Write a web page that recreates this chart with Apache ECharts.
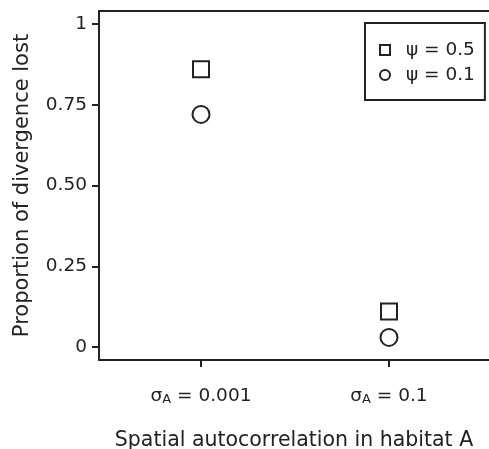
<!DOCTYPE html>
<html><head><meta charset="utf-8">
<script src="https://cdn.jsdelivr.net/npm/echarts@6/dist/echarts.min.js"></script>
<style>html,body{margin:0;padding:0;background:#fff;overflow:hidden}#c{width:489px;height:449px}</style>
</head><body><div id="c"></div>
<script>
// Data
const categories = ['0.001', '0.1'];          // sigma_A values
const categoryPos = [1, 2];
const seriesNames = ['ψ = 0.5', 'ψ = 0.1'];
const squareValues = [0.86, 0.11];            // psi = 0.5
const circleValues = [0.72, 0.03];            // psi = 0.1
const yTickValues = [0, 0.25, 0.5, 0.75, 1];
const yTickLabels = ['0', '0.25', '0.50', '0.75', '1'];
const xTitle = 'Spatial autocorrelation in habitat A';
const yTitle = 'Proportion of divergence lost';

const FONT = 'DejaVu Sans';
const INK = '#222';
const chart = echarts.init(document.getElementById('c'), null, {renderer: 'canvas'});

const markerStyle = {color: '#fff', borderColor: INK, borderWidth: 2, opacity: 1};
const axisLineStyle = {color: INK, width: 2};

chart.setOption({
  animation: false,
  backgroundColor: '#fff',
  textStyle: {fontFamily: FONT, color: INK},
  grid: {
    left: 99, top: 11, right: 0, bottom: 89,
    outerBoundsMode: 'none',
    show: false
  },
  legend: {
    orient: 'vertical',
    left: 365, top: 23,
    padding: [17, 10, 15, 14],
    itemGap: 5,
    itemWidth: 10, itemHeight: 10,
    borderColor: INK, borderWidth: 2,
    textStyle: {fontFamily: FONT, fontSize: 18.5, color: INK, lineHeight: 20, padding: [0, 0, 0, 11]},
    data: [
      {name: seriesNames[0], icon: 'rect'},
      {name: seriesNames[1], icon: 'circle'}
    ]
  },
  xAxis: [{
    type: 'value',
    position: 'bottom',
    min: 0.4574, max: 2.532,
    splitLine: {show: false},
    axisLine: {show: true, onZero: false, lineStyle: axisLineStyle},
    axisTick: {show: true, length: 7, lineStyle: axisLineStyle, customValues: categoryPos},
    axisLabel: {
      customValues: categoryPos,
      margin: 22,
      formatter: function (v) {
        const i = categoryPos.indexOf(v);
        return '{m|σ}{s|A}{m| = ' + categories[i] + '}';
      },
      rich: {
        m: {fontFamily: FONT, fontSize: 18.5, color: INK, lineHeight: 24, verticalAlign: 'bottom'},
        s: {fontFamily: FONT, fontSize: 13, color: INK, lineHeight: 13, verticalAlign: 'bottom'}
      }
    },
    name: xTitle,
    nameLocation: 'middle',
    nameGap: 70,
    nameTextStyle: {fontFamily: FONT, fontSize: 20.5, color: INK}
  }, {
    type: 'value',
    position: 'top',
    min: 0.4574, max: 2.532,
    splitLine: {show: false},
    axisLine: {show: true, onZero: false, lineStyle: axisLineStyle},
    axisTick: {show: false},
    axisLabel: {show: false}
  }],
  yAxis: {
    type: 'value',
    min: -0.04, max: 1.04,
    splitLine: {show: false},
    axisLine: {show: true, onZero: false, lineStyle: axisLineStyle},
    axisTick: {show: true, length: 7, lineStyle: axisLineStyle, customValues: yTickValues},
    axisLabel: {
      customValues: yTickValues,
      margin: 12,
      fontFamily: FONT, fontSize: 18.5, color: INK,
      formatter: function (v) {
        const i = yTickValues.indexOf(v);
        return i >= 0 ? yTickLabels[i] : '';
      }
    },
    name: yTitle,
    nameLocation: 'middle',
    nameGap: 66,
    nameTextStyle: {fontFamily: FONT, fontSize: 21, color: INK}
  },
  series: [
    {
      name: seriesNames[0], type: 'scatter', symbol: 'rect', symbolSize: 16,
      itemStyle: markerStyle,
      data: categoryPos.map((x, i) => [x, squareValues[i]])
    },
    {
      name: seriesNames[1], type: 'scatter', symbol: 'circle', symbolSize: 17,
      itemStyle: markerStyle,
      data: categoryPos.map((x, i) => [x, circleValues[i]])
    }
  ]
});
</script></body></html>
